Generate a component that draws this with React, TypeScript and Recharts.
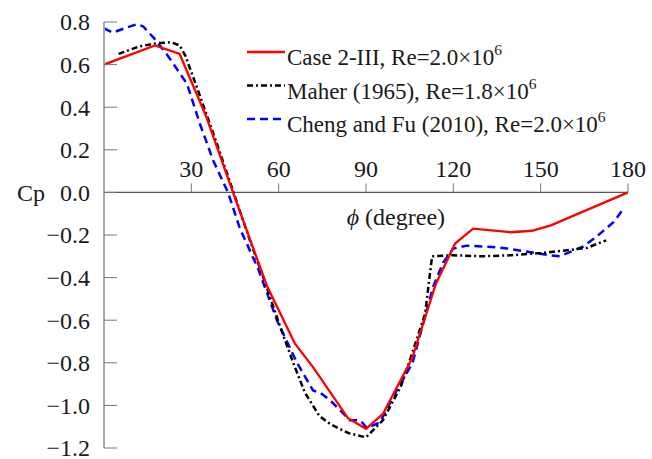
import React from "react";
import {
  LineChart,
  Line,
  XAxis,
  YAxis,
  ReferenceLine,
  ReferenceDot,
} from "recharts";

// Case 2-III, Re=2.0e6
const casePhi = [0, 17.5, 26, 35, 44.3, 56, 65.6, 71.8, 83.8, 90, 95.8, 105.8, 114, 120.6, 126.8, 140, 147, 153.5, 180];
const caseCp = [0.6, 0.69, 0.65, 0.36, 0.0, -0.44, -0.71, -0.82, -1.06, -1.11, -1.04, -0.78, -0.43, -0.24, -0.17, -0.187, -0.18, -0.155, 0.0];

// Maher (1965), Re=1.8e6
const maherPhi = [5, 12, 18, 23, 26, 28, 32, 39, 44.5, 50, 55, 60.5, 65, 69, 74, 78, 84, 90, 95.8, 102, 105, 110.3, 112.7, 120, 130, 140, 150, 160, 166, 172.5];
const maherCp = [0.65, 0.685, 0.7, 0.705, 0.69, 0.64, 0.49, 0.22, 0.0, -0.22, -0.41, -0.63, -0.8, -0.94, -1.05, -1.09, -1.13, -1.15, -1.07, -0.91, -0.79, -0.57, -0.3, -0.295, -0.3, -0.295, -0.285, -0.27, -0.26, -0.225];

// Cheng and Fu (2010), Re=2.0e6
const chengPhi = [0, 3, 7, 11.3, 13.4, 17, 21.5, 28.5, 33, 37.5, 42.6, 46.7, 53, 59.4, 66.3, 71.8, 74.2, 77.6, 84.5, 88, 90.3, 94.8, 99.3, 106, 113, 116.5, 120, 124.6, 132, 138.4, 146, 153, 156.6, 164.5, 169, 175, 178];
const chengCp = [0.77, 0.75, 0.77, 0.79, 0.78, 0.727, 0.65, 0.51, 0.32, 0.15, 0.0, -0.17, -0.36, -0.6, -0.8, -0.93, -0.94, -0.975, -1.07, -1.07, -1.106, -1.08, -0.96, -0.8, -0.445, -0.33, -0.264, -0.25, -0.255, -0.263, -0.28, -0.295, -0.3, -0.255, -0.21, -0.14, -0.085];

const xTicks = [30, 60, 90, 120, 150, 180];
const yTicks = [-1.2, -1.0, -0.8, -0.6, -0.4, -0.2, 0.0, 0.2, 0.4, 0.6, 0.8];

const toRows = (xs: number[], ys: number[]) => xs.map((phi, i) => ({ phi, cp: ys[i] }));

const serif = { fontFamily: "Times New Roman, Liberation Serif, DejaVu Serif, serif" };
const TEXT = "#1a1a1a";

const YTick = (props: any) => {
  const { x, y, payload } = props;
  const v = payload.value as number;
  const label = v.toFixed(1).replace("-", "\u2212");
  return (
    <g>
      <line x1={x} x2={x + 13} y1={y} y2={y} stroke="#777" strokeWidth={1} />
      <text x={x - 14} y={y} dy="0.35em" textAnchor="end" style={serif} fontSize={24} fill={TEXT}>
        {label}
      </text>
      {v === 0 && (
        <text x={x - 59} y={y} dy="0.35em" textAnchor="end" style={serif} fontSize={24} fill={TEXT}>
          Cp
        </text>
      )}
    </g>
  );
};

const xTickShape = (label: number) => (props: any) => {
  const { cx, cy } = props;
  return (
    <g>
      <line x1={cx} x2={cx} y1={cy} y2={cy - 9} stroke="#777" strokeWidth={1} />
      <text x={cx} y={cy - 15} textAnchor="middle" style={serif} fontSize={24} fill={TEXT}>
        {label}
      </text>
    </g>
  );
};

const AxisTitle = (props: any) => {
  const { viewBox } = props;
  const x = viewBox.x + viewBox.width * 0.557;
  const y = viewBox.y + 33;
  return (
    <text x={x} y={y} textAnchor="middle" style={serif} fontSize={24} fill={TEXT}>
      <tspan fontStyle="italic">{"\u03d5"}</tspan> (degree)
    </text>
  );
};

const legendItems = [
  { name: "Case 2-III, Re=2.0\u00d710", sup: "6", color: "#ff0000", dash: undefined },
  { name: "Maher (1965), Re=1.8\u00d710", sup: "6", color: "#000000", dash: "6 3 2 3" },
  { name: "Cheng and Fu (2010), Re=2.0\u00d710", sup: "6", color: "#0000ff", dash: "8 5" },
];

function LegendBox() {
  return (
    <svg
      width={420}
      height={110}
      style={{ position: "absolute", left: 240, top: 30, overflow: "visible" }}
    >
      {legendItems.map((it, i) => {
        const base = 35 + i * 33.5;
        return (
          <g key={it.name}>
            <line
              x1={7}
              x2={45}
              y1={base - 13}
              y2={base - 13}
              stroke={it.color}
              strokeWidth={2.5}
              strokeDasharray={it.dash}
            />
            <text x={47} y={base} style={serif} fontSize={23} fill={TEXT}>
              {it.name}
              <tspan fontSize={15.5} dy={-10}>
                {it.sup}
              </tspan>
            </text>
          </g>
        );
      })}
    </svg>
  );
}

export default function App() {
  return (
    <div style={{ position: "absolute", left: 0, top: 0, width: 652, height: 459, background: "#fff" }}>
      <LineChart
        width={652}
        height={459}
        margin={{ top: 22, right: 24, bottom: 11, left: 44 }}
        style={{ overflow: "visible" }}
      >
        <XAxis type="number" dataKey="phi" domain={[0, 180]} hide allowDataOverflow />
        <YAxis
          type="number"
          domain={[-1.2, 0.8]}
          ticks={yTicks}
          width={60}
          tickSize={0}
          tickMargin={0}
          tickLine={false}
          axisLine={{ stroke: "#a8a8a8", strokeWidth: 2 }}
          tick={<YTick />}
          interval={0}
          allowDataOverflow
        />
        <ReferenceLine y={0} stroke="#555" strokeWidth={1.3} label={<AxisTitle />} />
        {xTicks.map((t) => (
          <ReferenceDot key={t} x={t} y={0} r={0} shape={xTickShape(t)} ifOverflow="visible" />
        ))}
        <Line
          data={toRows(chengPhi, chengCp)}
          dataKey="cp"
          type="linear"
          stroke="#0000ff"
          strokeWidth={2.5}
          strokeDasharray="8 5"
          dot={false}
          isAnimationActive={false}
        />
        <Line
          data={toRows(maherPhi, maherCp)}
          dataKey="cp"
          type="linear"
          stroke="#000000"
          strokeWidth={2.5}
          strokeDasharray="6 3 2 3"
          dot={false}
          isAnimationActive={false}
        />
        <Line
          data={toRows(casePhi, caseCp)}
          dataKey="cp"
          type="linear"
          stroke="#ff0000"
          strokeWidth={2.3}
          dot={false}
          isAnimationActive={false}
        />
      </LineChart>
      <LegendBox />
    </div>
  );
}
